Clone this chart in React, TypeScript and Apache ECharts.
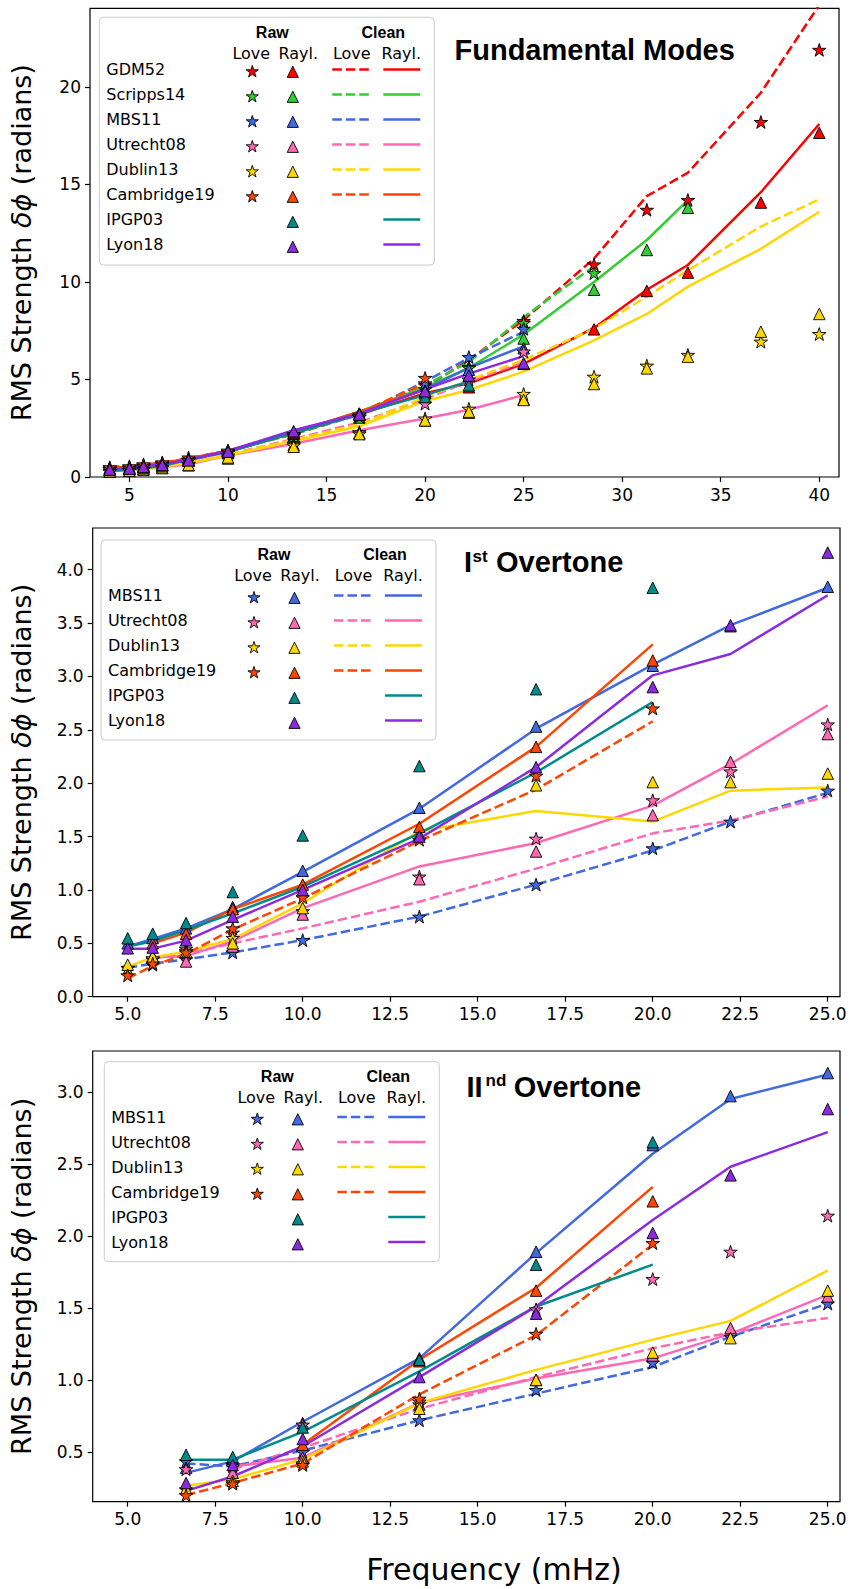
import React, { useEffect, useRef } from "react";
import * as echarts from "echarts";

// ---------------- frequencies (mHz) ----------------
const FREQ_FUND = [4, 5, 5.714, 6.667, 8, 10, 13.333, 16.667, 20, 22.222, 25, 28.571, 31.25, 33.333, 37.037, 40];
const FREQ_OT1 = [5, 5.714, 6.667, 8, 10, 13.333, 16.667, 20, 22.222, 25];
const FREQ_OT2 = [6.667, 8, 10, 13.333, 16.667, 20, 22.222, 25];

// ---------------- tick labels ----------------
const X_TICKS_FUND = [5, 10, 15, 20, 25, 30, 35, 40];
const X_TICKS_OT = [5, 7.5, 10, 12.5, 15, 17.5, 20, 22.5, 25];
const Y_TICKS_FUND = [0, 5, 10, 15, 20];
const Y_TICKS_OT1 = [0, 0.5, 1, 1.5, 2, 2.5, 3, 3.5, 4];
const Y_TICKS_OT2 = [0.5, 1, 1.5, 2, 2.5, 3];

// ---------------- Fundamental modes ----------------
const FUND_GDM52_RAW_LOVE = [0.45, 0.5, 0.6, 0.7, 0.9, 1.3, 2.1, 3.1, 4.7, 5.65, 8.0, 10.9, 13.7, 14.2, 18.2, 21.9];
const FUND_GDM52_RAW_RAYL = [0.4, 0.45, 0.55, 0.65, 0.85, 1.25, 2.2, 3.2, 4.3, 4.6, 5.8, 7.57, 9.54, 10.48, 14.07, 17.65];
const FUND_GDM52_CLEAN_LOVE = [0.5, 0.55, 0.62, 0.72, 0.95, 1.35, 2.2, 3.2, 4.6, 6.0, 8.05, 11.2, 14.4, 15.6, 19.7, 24.2];
const FUND_GDM52_CLEAN_RAYL = [0.45, 0.5, 0.58, 0.68, 0.9, 1.3, 2.25, 3.2, 4.3, 4.8, 5.8, 7.64, 9.6, 10.87, 14.6, 18.1];

const FUND_SCRIPPS14_RAW_LOVE = [0.42, 0.48, 0.57, 0.67, 0.88, 1.28, 2.15, 3.08, 4.5, 5.6, 7.9, 10.45, null, null, null, null];
const FUND_SCRIPPS14_RAW_RAYL = [0.38, 0.43, 0.52, 0.62, 0.83, 1.22, 2.1, 3.05, 4.3, 5.2, 7.1, 9.6, 11.64, 13.8, null, null];
const FUND_SCRIPPS14_CLEAN_LOVE = [0.45, 0.5, 0.6, 0.7, 0.9, 1.32, 2.2, 3.2, 4.7, 5.9, 8.2, 10.8, null, null, null, null];
const FUND_SCRIPPS14_CLEAN_RAYL = [0.42, 0.47, 0.56, 0.66, 0.87, 1.28, 2.25, 3.35, 4.6, 5.6, 7.3, 10.0, 12.15, 14.2, null, null];

const FUND_MBS11_RAW_LOVE = [0.4, 0.45, 0.55, 0.65, 0.85, 1.25, 2.2, 3.1, 4.8, 6.15, 7.6, null, null, null, null, null];
const FUND_MBS11_RAW_RAYL = [0.38, 0.43, 0.52, 0.62, 0.83, 1.25, 2.25, 3.2, 4.4, 5.5, 6.6, null, null, null, null, null];
const FUND_MBS11_CLEAN_LOVE = [0.42, 0.47, 0.56, 0.66, 0.88, 1.3, 2.25, 3.2, 4.9, 6.1, 7.45, null, null, null, null, null];
const FUND_MBS11_CLEAN_RAYL = [0.4, 0.45, 0.54, 0.64, 0.86, 1.28, 2.3, 3.3, 4.5, 5.6, 6.7, null, null, null, null, null];

const FUND_UTRECHT08_RAW_LOVE = [0.3, 0.35, 0.42, 0.5, 0.65, 1.0, 1.7, 2.3, 3.76, 5.0, 6.43, null, null, null, null, null];
const FUND_UTRECHT08_RAW_RAYL = [0.28, 0.32, 0.4, 0.47, 0.6, 0.95, 1.65, 2.25, 2.9, 3.3, 4.0, null, null, null, null, null];
const FUND_UTRECHT08_CLEAN_LOVE = [0.35, 0.4, 0.48, 0.57, 0.75, 1.15, 1.95, 2.8, 4.0, 4.9, 5.9, null, null, null, null, null];
const FUND_UTRECHT08_CLEAN_RAYL = [0.3, 0.35, 0.42, 0.5, 0.65, 1.1, 1.7, 2.4, 3.0, 3.45, 4.2, null, null, null, null, null];

const FUND_DUBLIN13_RAW_LOVE = [0.3, 0.35, 0.4, 0.5, 0.68, 1.1, 1.62, 2.22, 3.0, 3.5, 4.26, 5.14, 5.71, 6.26, 6.94, 7.33];
const FUND_DUBLIN13_RAW_RAYL = [0.28, 0.32, 0.38, 0.46, 0.62, 1.0, 1.55, 2.2, 2.9, 3.35, 3.95, 4.77, 5.57, 6.17, 7.45, 8.36];
const FUND_DUBLIN13_CLEAN_LOVE = [0.32, 0.38, 0.45, 0.55, 0.75, 1.15, 1.9, 2.7, 4.1, 4.97, 6.0, 7.6, 9.25, 10.6, 12.84, 14.24];
const FUND_DUBLIN13_CLEAN_RAYL = [0.3, 0.36, 0.43, 0.52, 0.72, 1.1, 1.85, 2.6, 3.9, 4.46, 5.4, 7.0, 8.36, 9.76, 11.7, 13.6];

const FUND_CAMBRIDGE19_RAW_LOVE = [0.5, 0.55, 0.65, 0.75, 1.0, 1.35, 2.2, 3.2, 5.08, null, null, null, null, null, null, null];
const FUND_CAMBRIDGE19_RAW_RAYL = [0.45, 0.5, 0.6, 0.7, 0.92, 1.3, 2.25, 3.25, 4.4, null, null, null, null, null, null, null];
const FUND_CAMBRIDGE19_CLEAN_LOVE = [0.5, 0.55, 0.63, 0.73, 0.95, 1.35, 2.25, 3.3, 4.8, null, null, null, null, null, null, null];
const FUND_CAMBRIDGE19_CLEAN_RAYL = [0.48, 0.52, 0.6, 0.72, 0.95, 1.35, 2.3, 3.35, 4.5, null, null, null, null, null, null, null];

const FUND_IPGP03_RAW_RAYL = [0.36, 0.42, 0.45, 0.55, 0.9, 1.37, 2.3, 3.25, 4.1, 4.7, null, null, null, null, null, null];
const FUND_IPGP03_CLEAN_RAYL = [0.3, 0.38, 0.45, 0.57, 0.88, 1.32, 2.25, 3.25, 4.2, 4.9, null, null, null, null, null, null];

const FUND_LYON18_RAW_RAYL = [0.38, 0.43, 0.52, 0.62, 0.85, 1.3, 2.35, 3.2, 4.4, 5.2, 5.83, null, null, null, null, null];
const FUND_LYON18_CLEAN_RAYL = [0.4, 0.45, 0.54, 0.65, 0.88, 1.33, 2.4, 3.25, 4.5, 5.3, 6.2, null, null, null, null, null];

// ---------------- I st overtone ----------------
const OT1_MBS11_RAW_LOVE = [0.27, 0.3, 0.35, 0.415, 0.53, 0.75, 1.05, 1.39, 1.64, 1.93];
const OT1_MBS11_RAW_RAYL = [0.5, 0.55, 0.64, 0.84, 1.18, 1.77, 2.53, 3.1, 3.47, 3.84];
const OT1_MBS11_CLEAN_LOVE = [0.27, 0.31, 0.35, 0.415, 0.53, 0.75, 1.05, 1.37, 1.64, 1.91];
const OT1_MBS11_CLEAN_RAYL = [0.47, 0.54, 0.64, 0.82, 1.17, 1.76, 2.51, 3.11, 3.48, 3.83];

const OT1_UTRECHT08_RAW_LOVE = [null, 0.35, 0.45, 0.6, 0.8, 1.125, 1.48, 1.84, 2.11, 2.55];
const OT1_UTRECHT08_RAW_RAYL = [null, 0.38, 0.33, 0.47, 0.77, 1.1, 1.36, 1.7, 2.2, 2.46];
const OT1_UTRECHT08_CLEAN_LOVE = [null, 0.36, 0.4, 0.5, 0.64, 0.89, 1.2, 1.53, 1.65, 1.875];
const OT1_UTRECHT08_CLEAN_RAYL = [null, 0.37, 0.38, 0.52, 0.83, 1.22, 1.44, 1.79, 2.18, 2.73];

const OT1_DUBLIN13_RAW_LOVE = [0.27, 0.36, 0.43, 0.55, null, null, null, null, null, null];
const OT1_DUBLIN13_RAW_RAYL = [0.3, 0.375, 0.42, 0.5, 0.83, 1.52, 1.98, 2.01, 2.01, 2.09];
const OT1_DUBLIN13_CLEAN_LOVE = [null, null, null, null, null, null, null, null, null, null];
const OT1_DUBLIN13_CLEAN_RAYL = [0.28, 0.37, 0.42, 0.54, 0.875, 1.55, 1.74, 1.64, 1.93, 1.96];

const OT1_CAMBRIDGE19_RAW_LOVE = [0.2, 0.31, 0.415, 0.64, 0.93, 1.47, 2.07, 2.7, null, null];
const OT1_CAMBRIDGE19_RAW_RAYL = [null, 0.5, 0.59, 0.82, 1.05, 1.59, 2.34, 3.15, null, null];
const OT1_CAMBRIDGE19_CLEAN_LOVE = [0.17, 0.29, 0.4, 0.63, 0.92, 1.46, 1.94, 2.58, null, null];
const OT1_CAMBRIDGE19_CLEAN_RAYL = [null, 0.5, 0.6, 0.82, 1.05, 1.62, 2.34, 3.3, null, null];

const OT1_IPGP03_RAW_RAYL = [0.547, 0.59, 0.69, 0.98, 1.51, 2.16, 2.88, 3.83, null, null];
const OT1_IPGP03_CLEAN_RAYL = [0.47, 0.52, 0.625, 0.78, 1.03, 1.53, 2.1, 2.76, null, null];

const OT1_LYON18_RAW_RAYL = [0.453, 0.46, 0.53, 0.75, 1.0, 1.5, 2.15, 2.9, 3.48, 4.16];
const OT1_LYON18_CLEAN_RAYL = [0.45, 0.45, 0.525, 0.72, 1.0, 1.48, 2.15, 3.01, 3.21, 3.76];

// ---------------- II nd overtone ----------------
const OT2_MBS11_RAW_LOVE = [0.435, 0.41, 0.5, 0.72, 0.93, 1.12, 1.3, 1.53];
const OT2_MBS11_RAW_RAYL = [0.39, 0.44, 0.7, 1.15, 1.89, 2.63, 2.97, 3.13];
const OT2_MBS11_CLEAN_LOVE = [0.42, 0.4, 0.51, 0.72, 0.905, 1.09, 1.3, 1.53];
const OT2_MBS11_CLEAN_RAYL = [0.355, 0.435, 0.71, 1.15, 1.88, 2.57, 2.95, 3.12];

const OT2_UTRECHT08_RAW_LOVE = [0.38, 0.4, 0.69, 0.85, 1.49, 1.7, 1.89, 2.14];
const OT2_UTRECHT08_RAW_RAYL = [null, 0.355, 0.46, 0.83, 1.0, 1.17, 1.36, 1.58];
const OT2_UTRECHT08_CLEAN_LOVE = [null, 0.38, 0.53, 0.8, 1.02, 1.22, 1.33, 1.43];
const OT2_UTRECHT08_CLEAN_RAYL = [null, 0.4, 0.46, 0.84, 1.01, 1.15, 1.32, 1.59];

const OT2_DUBLIN13_RAW_LOVE = [0.24, 0.29, 0.42, 0.83, null, null, null, null];
const OT2_DUBLIN13_RAW_RAYL = [0.245, 0.3, 0.435, 0.8, 1.0, 1.19, 1.29, 1.62];
const OT2_DUBLIN13_CLEAN_LOVE = [null, null, null, null, null, null, null, null];
const OT2_DUBLIN13_CLEAN_RAYL = [0.265, 0.31, 0.45, 0.84, 1.07, 1.28, 1.41, 1.76];

const OT2_CAMBRIDGE19_RAW_LOVE = [0.2, 0.28, 0.41, 0.87, 1.32, 1.95, null, null];
const OT2_CAMBRIDGE19_RAW_RAYL = [null, null, 0.55, 1.13, 1.62, 2.24, null, null];
const OT2_CAMBRIDGE19_CLEAN_LOVE = [0.2, 0.285, 0.42, 0.9, 1.31, 1.94, null, null];
const OT2_CAMBRIDGE19_CLEAN_RAYL = [null, null, 0.55, 1.14, 1.64, 2.34, null, null];

const OT2_IPGP03_RAW_RAYL = [0.48, 0.465, 0.67, 1.14, 1.8, 2.65, null, null];
const OT2_IPGP03_CLEAN_RAYL = [0.447, 0.447, 0.64, 1.06, 1.51, 1.8, null, null];

const OT2_LYON18_RAW_RAYL = [0.285, 0.41, 0.59, 1.02, 1.46, 2.02, 2.42, 2.88];
const OT2_LYON18_CLEAN_RAYL = [0.23, 0.33, 0.54, 1.02, 1.51, 2.11, 2.48, 2.72];

// ---------------- colours ----------------
const COL = {
  GDM52: "#ff0000",
  Scripps14: "#32cd32",
  MBS11: "#4169e1",
  Utrecht08: "#ff69b4",
  Dublin13: "#ffd700",
  Cambridge19: "#ff4500",
  IPGP03: "#008b8b",
  Lyon18: "#8a2be2",
};

type Model = {
  name: string;
  rawL: (number | null)[] | null;
  rawR: (number | null)[];
  cleanL: (number | null)[] | null;
  cleanR: (number | null)[];
};

const FUND_MODELS: Model[] = [
  { name: "GDM52", rawL: FUND_GDM52_RAW_LOVE, rawR: FUND_GDM52_RAW_RAYL, cleanL: FUND_GDM52_CLEAN_LOVE, cleanR: FUND_GDM52_CLEAN_RAYL },
  { name: "Scripps14", rawL: FUND_SCRIPPS14_RAW_LOVE, rawR: FUND_SCRIPPS14_RAW_RAYL, cleanL: FUND_SCRIPPS14_CLEAN_LOVE, cleanR: FUND_SCRIPPS14_CLEAN_RAYL },
  { name: "MBS11", rawL: FUND_MBS11_RAW_LOVE, rawR: FUND_MBS11_RAW_RAYL, cleanL: FUND_MBS11_CLEAN_LOVE, cleanR: FUND_MBS11_CLEAN_RAYL },
  { name: "Utrecht08", rawL: FUND_UTRECHT08_RAW_LOVE, rawR: FUND_UTRECHT08_RAW_RAYL, cleanL: FUND_UTRECHT08_CLEAN_LOVE, cleanR: FUND_UTRECHT08_CLEAN_RAYL },
  { name: "Dublin13", rawL: FUND_DUBLIN13_RAW_LOVE, rawR: FUND_DUBLIN13_RAW_RAYL, cleanL: FUND_DUBLIN13_CLEAN_LOVE, cleanR: FUND_DUBLIN13_CLEAN_RAYL },
  { name: "Cambridge19", rawL: FUND_CAMBRIDGE19_RAW_LOVE, rawR: FUND_CAMBRIDGE19_RAW_RAYL, cleanL: FUND_CAMBRIDGE19_CLEAN_LOVE, cleanR: FUND_CAMBRIDGE19_CLEAN_RAYL },
  { name: "IPGP03", rawL: null, rawR: FUND_IPGP03_RAW_RAYL, cleanL: null, cleanR: FUND_IPGP03_CLEAN_RAYL },
  { name: "Lyon18", rawL: null, rawR: FUND_LYON18_RAW_RAYL, cleanL: null, cleanR: FUND_LYON18_CLEAN_RAYL },
];

const OT1_MODELS: Model[] = [
  { name: "MBS11", rawL: OT1_MBS11_RAW_LOVE, rawR: OT1_MBS11_RAW_RAYL, cleanL: OT1_MBS11_CLEAN_LOVE, cleanR: OT1_MBS11_CLEAN_RAYL },
  { name: "Utrecht08", rawL: OT1_UTRECHT08_RAW_LOVE, rawR: OT1_UTRECHT08_RAW_RAYL, cleanL: OT1_UTRECHT08_CLEAN_LOVE, cleanR: OT1_UTRECHT08_CLEAN_RAYL },
  { name: "Dublin13", rawL: OT1_DUBLIN13_RAW_LOVE, rawR: OT1_DUBLIN13_RAW_RAYL, cleanL: OT1_DUBLIN13_CLEAN_LOVE, cleanR: OT1_DUBLIN13_CLEAN_RAYL },
  { name: "Cambridge19", rawL: OT1_CAMBRIDGE19_RAW_LOVE, rawR: OT1_CAMBRIDGE19_RAW_RAYL, cleanL: OT1_CAMBRIDGE19_CLEAN_LOVE, cleanR: OT1_CAMBRIDGE19_CLEAN_RAYL },
  { name: "IPGP03", rawL: null, rawR: OT1_IPGP03_RAW_RAYL, cleanL: null, cleanR: OT1_IPGP03_CLEAN_RAYL },
  { name: "Lyon18", rawL: null, rawR: OT1_LYON18_RAW_RAYL, cleanL: null, cleanR: OT1_LYON18_CLEAN_RAYL },
];

const OT2_MODELS: Model[] = [
  { name: "MBS11", rawL: OT2_MBS11_RAW_LOVE, rawR: OT2_MBS11_RAW_RAYL, cleanL: OT2_MBS11_CLEAN_LOVE, cleanR: OT2_MBS11_CLEAN_RAYL },
  { name: "Utrecht08", rawL: OT2_UTRECHT08_RAW_LOVE, rawR: OT2_UTRECHT08_RAW_RAYL, cleanL: OT2_UTRECHT08_CLEAN_LOVE, cleanR: OT2_UTRECHT08_CLEAN_RAYL },
  { name: "Dublin13", rawL: OT2_DUBLIN13_RAW_LOVE, rawR: OT2_DUBLIN13_RAW_RAYL, cleanL: OT2_DUBLIN13_CLEAN_LOVE, cleanR: OT2_DUBLIN13_CLEAN_RAYL },
  { name: "Cambridge19", rawL: OT2_CAMBRIDGE19_RAW_LOVE, rawR: OT2_CAMBRIDGE19_RAW_RAYL, cleanL: OT2_CAMBRIDGE19_CLEAN_LOVE, cleanR: OT2_CAMBRIDGE19_CLEAN_RAYL },
  { name: "IPGP03", rawL: null, rawR: OT2_IPGP03_RAW_RAYL, cleanL: null, cleanR: OT2_IPGP03_CLEAN_RAYL },
  { name: "Lyon18", rawL: null, rawR: OT2_LYON18_RAW_RAYL, cleanL: null, cleanR: OT2_LYON18_CLEAN_RAYL },
];

// ---------------- layout ----------------
const GRIDS = [
  { left: 90, top: 8.3, width: 749, height: 468.7, xMin: 3, xMax: 41, yMin: 0, yMax: 24.03 },
  { left: 92.7, top: 528, width: 747.3, height: 468.7, xMin: 4, xMax: 25.35, yMin: 0, yMax: 4.39 },
  { left: 92.7, top: 1051, width: 747.3, height: 450.7, xMin: 4, xMax: 25.35, yMin: 0.155, yMax: 3.283 },
];

const DASH = [9.5, 4];
const LW = 2.5;
const STAR_RATIO = 0.381966;

function starPoints(cx: number, cy: number, R: number) {
  const pts: number[][] = [];
  for (let i = 0; i < 10; i++) {
    const a = -Math.PI / 2 + (i * Math.PI) / 5;
    const r = i % 2 === 0 ? R : R * STAR_RATIO;
    pts.push([cx + r * Math.cos(a), cy + r * Math.sin(a)]);
  }
  return pts;
}
const STAR_SYMBOL =
  "path://" +
  starPoints(10, 10, 10)
    .map((p, i) => (i === 0 ? "M" : "L") + p[0].toFixed(3) + " " + p[1].toFixed(3))
    .join(" ") +
  " Z";

function pairs(freqs: number[], vals: (number | null)[] | null) {
  const out: number[][] = [];
  if (!vals) return out;
  vals.forEach((v, i) => {
    if (v !== null && v !== undefined) out.push([freqs[i], v]);
  });
  return out;
}

function buildSeries(gi: number, freqs: number[], models: Model[]) {
  const lines: any[] = [];
  const marks: any[] = [];
  models.forEach((m) => {
    const c = (COL as any)[m.name];
    const cl = pairs(freqs, m.cleanL);
    if (cl.length) {
      lines.push({
        type: "line", xAxisIndex: gi, yAxisIndex: gi, data: cl, symbol: "none",
        lineStyle: { color: c, width: LW, type: DASH }, z: 2, silent: true,
      });
    }
    const cr = pairs(freqs, m.cleanR);
    if (cr.length) {
      lines.push({
        type: "line", xAxisIndex: gi, yAxisIndex: gi, data: cr, symbol: "none",
        lineStyle: { color: c, width: LW, type: "solid" }, z: 2, silent: true,
      });
    }
    const rl = pairs(freqs, m.rawL);
    if (rl.length) {
      marks.push({
        type: "scatter", xAxisIndex: gi, yAxisIndex: gi, data: rl, symbol: STAR_SYMBOL,
        symbolKeepAspect: true, symbolSize: 13.5,
        itemStyle: { color: c, borderColor: "#000", borderWidth: 0.9, opacity: 1 }, z: 3, silent: true,
      });
    }
    const rr = pairs(freqs, m.rawR);
    if (rr.length) {
      marks.push({
        type: "scatter", xAxisIndex: gi, yAxisIndex: gi, data: rr, symbol: "triangle",
        symbolSize: 11.5,
        itemStyle: { color: c, borderColor: "#000", borderWidth: 0.9, opacity: 1 }, z: 3, silent: true,
      });
    }
  });
  return lines.concat(marks);
}

const FONT = "DejaVu Sans";
const BOLD_FONT = "Liberation Sans";

function legendGraphics(left: number, top: number, height: number, headY1: number, headY2: number, rowY0: number, models: Model[]) {
  const els: any[] = [];
  els.push({
    type: "rect", z: 100,
    shape: { x: left, y: top, width: 335, height, r: 4 },
    style: { fill: "rgba(255,255,255,0.85)", stroke: "#cccccc", lineWidth: 1 },
  });
  const txt = (x: number, y: number, text: string, align: string, bold = false) => ({
    type: "text", z: 101, x, y,
    style: {
      text, fill: "#000", align, verticalAlign: "middle",
      fontSize: 16, fontFamily: bold ? BOLD_FONT : FONT, fontWeight: bold ? "bold" : "normal",
    },
  });
  els.push(txt(left + 173, headY1, "Raw", "center", true));
  els.push(txt(left + 284, headY1, "Clean", "center", true));
  els.push(txt(left + 152, headY2, "Love", "center"));
  els.push(txt(left + 199, headY2, "Rayl.", "center"));
  els.push(txt(left + 252.5, headY2, "Love", "center"));
  els.push(txt(left + 302, headY2, "Rayl.", "center"));
  models.forEach((m, k) => {
    const y = rowY0 + 25 * k;
    const c = (COL as any)[m.name];
    els.push(txt(left + 7, y, m.name, "left"));
    const my = y + 2.3;
    if (m.rawL) {
      els.push({
        type: "polygon", z: 101,
        shape: { points: starPoints(left + 153, my, 6.4) },
        style: { fill: c, stroke: "#000", lineWidth: 0.9 },
      });
      els.push({
        type: "line", z: 101,
        shape: { x1: left + 233, y1: y, x2: left + 270, y2: y },
        style: { stroke: c, lineWidth: LW, lineDash: DASH },
      });
    }
    const t = 5.6;
    els.push({
      type: "polygon", z: 101,
      shape: { points: [[left + 193.5, my - t], [left + 193.5 - t, my + t], [left + 193.5 + t, my + t]] },
      style: { fill: c, stroke: "#000", lineWidth: 0.9 },
    });
    els.push({
      type: "line", z: 101,
      shape: { x1: left + 284, y1: y, x2: left + 321, y2: y },
      style: { stroke: c, lineWidth: LW },
    });
  });
  return els;
}

function yLabel(cy: number) {
  return {
    type: "text", z: 50, x: 21, y: cy, rotation: Math.PI / 2,
    style: {
      text: "{n|RMS Strength }{i|δϕ}{n| (radians)}",
      align: "center", verticalAlign: "middle", fill: "#000",
      rich: {
        n: { fontSize: 27, fontFamily: FONT, fill: "#000" },
        i: { fontSize: 27, fontFamily: FONT, fontStyle: "italic", fill: "#000" },
      },
    },
  };
}

function titleText(x: number, y: number, text: string, size: number) {
  return {
    type: "text", z: 50, x, y,
    style: { text, fill: "#000", align: "left", verticalAlign: "middle", fontSize: size, fontFamily: BOLD_FONT, fontWeight: "bold" },
  };
}

function buildOption() {
  const xTicks = [X_TICKS_FUND, X_TICKS_OT, X_TICKS_OT];
  const yTicks = [Y_TICKS_FUND, Y_TICKS_OT1, Y_TICKS_OT2];
  const fmtX = [(v: number) => String(Math.round(v)), (v: number) => v.toFixed(1), (v: number) => v.toFixed(1)];
  const fmtY = [(v: number) => String(Math.round(v)), (v: number) => v.toFixed(1), (v: number) => v.toFixed(1)];

  const grid = GRIDS.map((g) => ({
    left: g.left, top: g.top, width: g.width, height: g.height,
    show: true, borderColor: "#000", borderWidth: 1.2, backgroundColor: "transparent", containLabel: false,
  }));
  const xAxis = GRIDS.map((g, i) => ({
    type: "value", gridIndex: i, min: g.xMin, max: g.xMax,
    axisLine: { show: false },
    axisTick: { show: true, inside: false, length: 5, lineStyle: { color: "#000", width: 1.2 }, customValues: xTicks[i] },
    axisLabel: { show: true, customValues: xTicks[i], formatter: fmtX[i], color: "#000", fontSize: 17, fontFamily: FONT, margin: 9 },
    splitLine: { show: false },
  }));
  const yAxis = GRIDS.map((g, i) => ({
    type: "value", gridIndex: i, min: g.yMin, max: g.yMax,
    axisLine: { show: false },
    axisTick: { show: true, inside: false, length: 5, lineStyle: { color: "#000", width: 1.2 }, customValues: yTicks[i] },
    axisLabel: { show: true, customValues: yTicks[i], formatter: fmtY[i], color: "#000", fontSize: 17, fontFamily: FONT, margin: 9 },
    splitLine: { show: false },
  }));

  const series = [
    ...buildSeries(0, FREQ_FUND, FUND_MODELS),
    ...buildSeries(1, FREQ_OT1, OT1_MODELS),
    ...buildSeries(2, FREQ_OT2, OT2_MODELS),
  ];

  const graphic = [
    ...legendGraphics(99.3, 17.3, 247.7, 32.5, 53.5, 69.5, FUND_MODELS),
    ...legendGraphics(101, 540, 200, 554.7, 575.2, 595.5, OT1_MODELS),
    ...legendGraphics(104.3, 1061.7, 200, 1076.2, 1097.2, 1117, OT2_MODELS),
    titleText(454.5, 49.7, "Fundamental Modes", 29),
    titleText(464, 562.2, "I", 29),
    titleText(472.5, 556.8, "st", 17),
    titleText(496, 562.2, "Overtone", 29),
    titleText(466.5, 1086.7, "II", 29),
    titleText(485.5, 1080.8, "nd", 17),
    titleText(513.8, 1086.7, "Overtone", 29),
    yLabel((8.3 + 477) / 2),
    yLabel((528 + 996.7) / 2),
    yLabel((1051 + 1501.7) / 2),
    {
      type: "text", z: 50, x: 494, y: 1569,
      style: { text: "Frequency (mHz)", fill: "#000", align: "center", verticalAlign: "middle", fontSize: 30, fontFamily: FONT },
    },
  ];

  return {
    animation: false,
    backgroundColor: "#ffffff",
    grid, xAxis, yAxis, series, graphic,
  };
}

export default function App() {
  const ref = useRef<HTMLDivElement>(null);
  useEffect(() => {
    if (!ref.current) return;
    const chart = echarts.init(ref.current, null, { renderer: "svg" });
    chart.setOption(buildOption() as any);
    return () => chart.dispose();
  }, []);
  return (
    <div
      ref={ref}
      style={{ position: "absolute", left: 0, top: 0, width: 853, height: 1589, background: "#fff" }}
    />
  );
}
